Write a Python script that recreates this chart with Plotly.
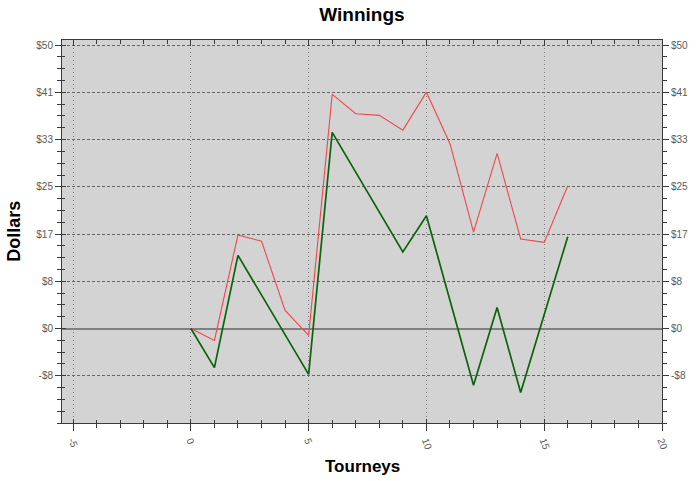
import numpy as np
import plotly.graph_objects as go

# ---- data ----
red_tourneys = [0, 1, 2, 3, 4, 5, 6, 7, 8, 9, 10, 11, 12, 13, 14, 15, 16]
red_values = [0, -2.1, 16.5, 15.4, 3.2, -1.2, 41.3, 37.9, 37.6, 35.0, 41.7, 32.6, 17.0, 30.9, 15.8, 15.2, 25.2]
green_tourneys = [0, 1, 2, 5, 6, 9, 10, 12, 13, 14, 16]
green_values = [0, -6.9, 12.9, -8.1, 34.6, 13.5, 19.9, -10.0, 3.7, -11.3, 16.2]

y_tick_values = [50, 41.667, 33.333, 25, 16.667, 8.333, 0, -8.333]
y_tick_labels = ["$50", "$41", "$33", "$25", "$17", "$8", "$0", "-$8"]
x_tick_values = [-5, 0, 5, 10, 15, 20]
x_tick_labels = ["-5", "0", "5", "10", "15", "20"]

XR = [-5.47, 20]
YR = [-16.667, 50.9]
y_minor = list(np.arange(-16.667, 50.5, 8.3333 / 4))

FONT = "Liberation Sans, Arial, sans-serif"
AXC = "#3a3a3a"
TICKF = dict(family=FONT, size=10, color="#5a5a5a")

fig = go.Figure()
fig.add_trace(go.Scatter(x=red_tourneys, y=red_values, mode="lines",
                         line=dict(color="#f04848", width=1.1), showlegend=False))
fig.add_trace(go.Scatter(x=green_tourneys, y=green_values, mode="lines",
                         line=dict(color="#0b640b", width=1.7), showlegend=False))
# empty traces so overlay axes get drawn
fig.add_trace(go.Scatter(x=[], y=[], xaxis="x2", yaxis="y2", showlegend=False))
fig.add_trace(go.Scatter(x=[], y=[], xaxis="x3", yaxis="y3", showlegend=False))

common_x = dict(range=XR, tickvals=x_tick_values, showline=True, linecolor=AXC, linewidth=1)
common_y = dict(range=YR, tickvals=y_tick_values, showline=True, linecolor=AXC, linewidth=1)

fig.update_layout(
    width=700, height=481,
    paper_bgcolor="white", plot_bgcolor="#d3d3d3",
    margin=dict(l=62, r=36, t=40, b=58),
    title=dict(text="<b>Winnings</b>", x=0.5, xref="paper", xanchor="center",
               y=1 - 14 / 481, yref="container", yanchor="middle",
               font=dict(family=FONT, size=19, color="black")),
    xaxis=dict(**common_x, ticktext=x_tick_labels, tickangle=70,
               ticks="outside", ticklen=7, tickcolor=AXC, tickfont=TICKF,
               showgrid=True, gridcolor="#7a7a7a", griddash="1px,3px", gridwidth=1,
               zeroline=False, mirror=True,
               minor=dict(dtick=1, tick0=0, ticks="outside", ticklen=4, tickcolor=AXC, showgrid=False)),
    yaxis=dict(**common_y, ticktext=y_tick_labels,
               ticks="outside", ticklen=6, tickcolor=AXC, tickfont=TICKF,
               showgrid=True, gridcolor="#666666", griddash="3px,2px", gridwidth=1,
               zeroline=True, zerolinecolor="#808080", zerolinewidth=2, mirror=True,
               minor=dict(tickvals=y_minor, ticks="outside", ticklen=4, tickcolor=AXC, showgrid=False)),
    xaxis2=dict(**common_x, overlaying="x", anchor="y", side="bottom", showticklabels=False,
                ticks="inside", ticklen=4, tickcolor=AXC, showgrid=False, zeroline=False,
                minor=dict(dtick=1, tick0=0, ticks="inside", ticklen=3, tickcolor=AXC)),
    xaxis3=dict(**common_x, overlaying="x", anchor="y", side="top", showticklabels=False,
                ticks="inside", ticklen=6, tickcolor=AXC, showgrid=False, zeroline=False,
                minor=dict(dtick=1, tick0=0, ticks="inside", ticklen=4, tickcolor=AXC)),
    yaxis2=dict(**common_y, overlaying="y", anchor="x", side="left", showticklabels=False,
                ticks="inside", ticklen=4, tickcolor=AXC, showgrid=False, zeroline=False,
                minor=dict(tickvals=y_minor, ticks="inside", ticklen=3, tickcolor=AXC)),
    yaxis3=dict(**common_y, ticktext=y_tick_labels, overlaying="y", anchor="x", side="right",
                ticks="outside", ticklen=6, tickcolor=AXC, tickfont=TICKF,
                showgrid=False, zeroline=False,
                minor=dict(tickvals=y_minor, ticks="outside", ticklen=4, tickcolor=AXC)),
    annotations=[
        dict(text="<b>Dollars</b>", xref="paper", yref="paper", x=(13 - 62) / 602, y=0.5,
             xanchor="center", yanchor="middle", textangle=-90, showarrow=False,
             font=dict(family=FONT, size=18, color="black")),
        dict(text="<b>Tourneys</b>", xref="paper", yref="paper", x=0.5, y=-(466 - 423) / 383,
             xanchor="center", yanchor="middle", showarrow=False,
             font=dict(family=FONT, size=17, color="black")),
    ],
)

fig.write_html("out.html", config={"displayModeBar": False},
               post_script="document.body.style.margin='0';")
